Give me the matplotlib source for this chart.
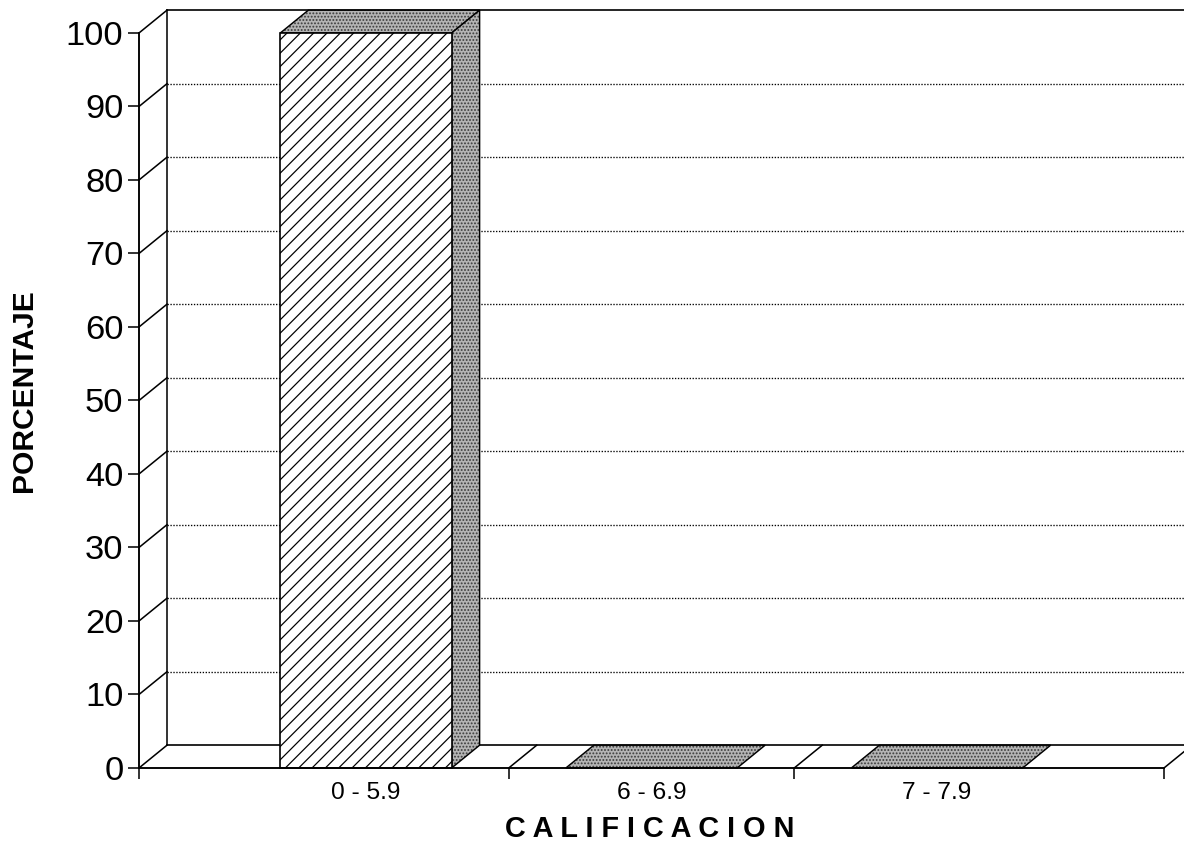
import numpy as np
import matplotlib.pyplot as plt
from matplotlib.patches import Polygon, Rectangle

# data
categories = ["0 - 5.9", "6 - 6.9", "7 - 7.9"]
percent = [100, 0, 0]
y_ticks = [0, 10, 20, 30, 40, 50, 60, 70, 80, 90, 100]

plt.rcParams['font.family'] = ['Liberation Sans', 'DejaVu Sans']
plt.rcParams['hatch.linewidth'] = 1.1

fig = plt.figure(figsize=(14.8, 10.65), dpi=80)
ax = fig.add_axes([0.1174, 0.0986, 0.8657, 0.8627])

x = np.arange(len(categories))
xmin, xmax = -0.795, len(categories) - 1 + 0.795
ax.set_xlim(xmin, xmax)
ax.set_ylim(0, 100)

# depth of the fake 3d box, in data units
dx, dy = 0.098, 3.1
bw = 0.6


def shaded(pts):
    # stippled gray face + black outline
    ax.add_patch(Polygon(pts, closed=True, facecolor='#b4b4b4', edgecolor='#3a3a3a',
                         hatch='....', lw=0, clip_on=False, zorder=3))
    ax.add_patch(Polygon(pts, closed=True, facecolor='none', edgecolor='black',
                         lw=1.3, clip_on=False, zorder=3))


#back wall: gridlines + frame
for v in y_ticks:
    if v == 100 or v == 0:
        ls = '-'
        lw = 1.5
    else:
        ls = (0, (1, 1.2))
        lw = 1.2
    ax.plot([xmin + dx, xmax + dx], [v + dy, v + dy], color='black', lw=lw,
            linestyle=ls, clip_on=False, zorder=1)
    # side wall diagonals
    ax.plot([xmin, xmin + dx], [v, v + dy], color='black', lw=1.4,
            clip_on=False, zorder=1)
ax.plot([xmin + dx, xmin + dx], [dy, 100 + dy], color='black', lw=1.4,
        clip_on=False, zorder=1)
ax.plot([xmax + dx, xmax + dx], [dy, 100 + dy], color='black', lw=1.4,
        clip_on=False, zorder=1)

# floor diagonals at category borders
for b in [0.5, 1.5, xmax]:
    ax.plot([b, b + dx], [0, dy], color='black', lw=1.4, clip_on=False, zorder=1)

# bars
for xi, val in zip(x, percent):
    x0 = xi - bw / 2
    x1 = xi + bw / 2
    shaded([(x0, val), (x1, val), (x1 + dx, val + dy), (x0 + dx, val + dy)])
    if val > 0:
        shaded([(x1, 0), (x1, val), (x1 + dx, val + dy), (x1 + dx, dy)])
        front = Rectangle((x0, 0), bw, val, facecolor='white', edgecolor='black',
                          hatch='//', lw=1.5, clip_on=False, zorder=4)
        ax.add_patch(front)

# axes
for s in ['top', 'right']:
    ax.spines[s].set_visible(False)
for s in ['left', 'bottom']:
    ax.spines[s].set_linewidth(1.7)
    ax.spines[s].set_zorder(5)

ax.set_yticks(y_ticks)
ax.tick_params(axis='y', length=10, width=1.4, pad=4, labelsize=31)
ax.set_xticks([xmin, 0.5, 1.5, xmax])
ax.set_xticklabels([])
ax.tick_params(axis='x', which='major', length=10, width=1.4)
ax.set_xticks(x, minor=True)
ax.set_xticklabels(categories, minor=True)
ax.tick_params(axis='x', which='minor', length=0, pad=13, labelsize=22)

fig.text(0.0203, 0.542, "PORCENTAJE", rotation=90, ha='center', va='center',
         fontsize=27, fontweight='bold')
fig.text(0.549, 0.027, " ".join("CALIFICACION"), ha='center', va='center',
         fontsize=26, fontweight='bold')

fig.savefig('out.png', dpi=80)
